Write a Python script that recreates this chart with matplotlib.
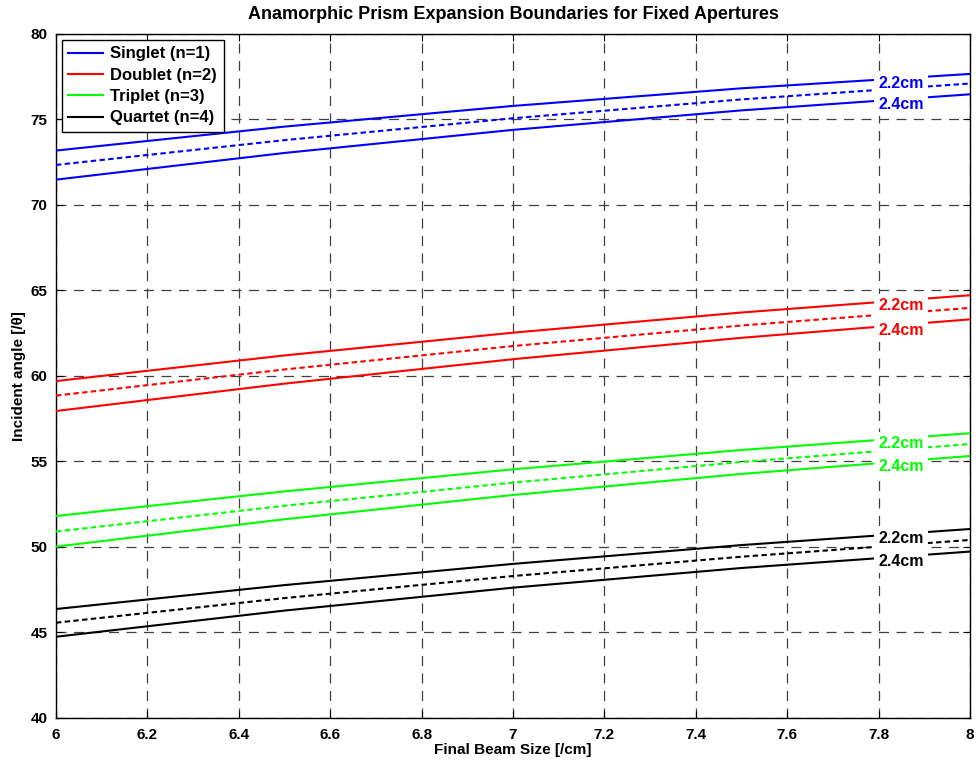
import numpy as np
import matplotlib
matplotlib.use("Agg")
import matplotlib.pyplot as plt

# --- Data ---
beam_size = [6.0, 6.5, 7.0, 7.5, 8.0]

# three lines per prism count: 2.2cm aperture (top), middle (dashed), 2.4cm aperture (bottom)
singlet_22 = [73.18, 74.58, 75.79, 76.82, 77.66]
singlet_mid = [72.34, 73.79, 75.07, 76.17, 77.10]
singlet_24 = [71.48, 73.04, 74.39, 75.53, 76.47]

doublet_22 = [59.70, 61.20, 62.53, 63.71, 64.72]
doublet_mid = [58.85, 60.38, 61.75, 62.95, 63.98]
doublet_24 = [57.95, 59.55, 60.98, 62.23, 63.31]

triplet_22 = [51.81, 53.25, 54.54, 55.67, 56.65]
triplet_mid = [50.90, 52.41, 53.76, 54.97, 56.02]
triplet_24 = [50.02, 51.62, 53.04, 54.27, 55.32]

quartet_22 = [46.37, 47.77, 49.01, 50.11, 51.05]
quartet_mid = [45.57, 47.01, 48.30, 49.43, 50.41]
quartet_24 = [44.75, 46.28, 47.62, 48.77, 49.73]

series_names = ["Singlet (n=1)", "Doublet (n=2)", "Triplet (n=3)", "Quartet (n=4)"]
series_colors = ["#0000ff", "#ff0000", "#00ff00", "#000000"]
aperture_labels = ["2.2cm", "2.4cm"]

groups = [
    (singlet_22, singlet_mid, singlet_24),
    (doublet_22, doublet_mid, doublet_24),
    (triplet_22, triplet_mid, triplet_24),
    (quartet_22, quartet_mid, quartet_24),
]

plt.rcParams['font.family'] = ['Liberation Sans', 'DejaVu Sans']
plt.rcParams['font.weight'] = 'bold'

fig = plt.figure(figsize=(9.77, 7.66), dpi=100)
ax = fig.add_axes([0.0573, 0.0627, 0.9355, 0.893])

for name, color, (top, mid, bot) in zip(series_names, series_colors, groups):
    ax.plot(beam_size, top, color=color, linewidth=1.5, label=name, zorder=3)
    ax.plot(beam_size, mid, color=color, linewidth=1.5, linestyle=(0, (2.6, 1.6)), zorder=3)
    ax.plot(beam_size, bot, color=color, linewidth=1.5, zorder=3)

    # aperture labels sitting on the lines near the right edge
    for lbl, line in zip(aperture_labels, (top, bot)):
        y_at = np.interp(7.8, beam_size, line) - 0.2
        ax.text(7.8, y_at, lbl, color=color, fontsize=11.5, fontweight='bold',
                ha='left', va='center', zorder=5,
                bbox=dict(facecolor='white', edgecolor='none', pad=3.0))

ax.set_xlim(6, 8)
ax.set_ylim(40, 80)
ax.set_xticks(np.arange(6, 8.01, 0.2))
ax.set_xticklabels(["6", "6.2", "6.4", "6.6", "6.8", "7", "7.2", "7.4", "7.6", "7.8", "8"])
ax.set_yticks(np.arange(40, 81, 5))

ax.grid(True, color='#404040', linestyle=(0, (8, 6)), linewidth=0.9)
ax.tick_params(direction='in', top=True, right=True, labelsize=11, length=5)
ax.tick_params(axis='x', pad=7)
ax.tick_params(axis='y', pad=6)
for lab in ax.get_xticklabels() + ax.get_yticklabels():
    lab.set_fontweight('bold')
for sp in ax.spines.values():
    sp.set_linewidth(1.0)

ax.set_title("Anamorphic Prism Expansion Boundaries for Fixed Apertures",
             fontsize=13, fontweight='bold', pad=11)
ax.set_xlabel("Final Beam Size [/cm]", fontsize=11, fontweight='bold', labelpad=1)
ax.set_ylabel("Incident angle [/θ]", fontsize=11, fontweight='bold', labelpad=3)

leg = ax.legend(loc='upper left', fontsize=12, fancybox=False, framealpha=1,
                edgecolor='black', borderaxespad=0.35, handlelength=2.1,
                borderpad=0.4, labelspacing=0.38, handletextpad=0.4)
leg.get_frame().set_linewidth(1.0)
for t in leg.get_texts():
    t.set_fontweight('bold')

fig.savefig("out.png", dpi=100)
